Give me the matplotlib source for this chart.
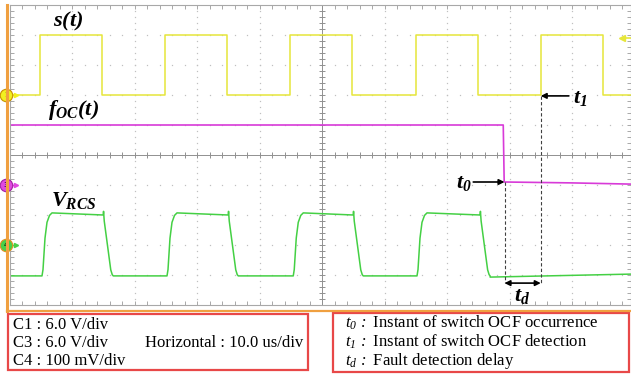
import numpy as np
import matplotlib
matplotlib.use('Agg')
import matplotlib.pyplot as plt
from matplotlib.patches import Rectangle
from matplotlib.lines import Line2D

plt.rcParams['mathtext.fontset'] = 'custom'
plt.rcParams['mathtext.it'] = 'Liberation Serif:italic:bold'
plt.rcParams['mathtext.rm'] = 'Liberation Serif:italic:bold'
plt.rcParams['mathtext.sf'] = 'Liberation Serif:italic'

W, H = 631, 376

# s(t): gate signal edges [us] and levels [div]
s_rise = [4.8, 24.8, 44.9, 65.0, 85.0]
s_fall = [14.8, 34.8, 54.8, 74.9, 95.0]
s_low, s_high = 2.0, 4.0

# f_OC(t): fault flag, drops at t0
foc_t = [0.0, 79.0, 79.15, 90.0, 99.4]
foc_v = [1.0, 1.0, -0.90, -0.93, -0.97]

# V_RCS edges [us] and levels [div]
v_rise = [5.2, 25.2, 45.4, 65.2]
v_fall = [15.0, 35.0, 55.0, 75.3]
v_low, v_high0, v_high1 = -4.03, -1.93, -2.0
v_tail_t = [76.9, 99.4]
v_tail_v = [-4.07, -3.97]

t0, t1 = 79.2, 85.0
t_end = 99.44

# edge shapes of the current sensor signal
rise_dt = [0, 0.1, 0.3, 0.5, 0.75, 1.0]
rise_dv = [0, 0.1, 0.6, 0.85, 0.96, 1.0]
fall_dt = [0, 0.03, 0.1, 0.75, 0.9, 1.0]
fall_dv = [1.0, 1.06, 0.9, 0.1, 0.02, 0.0]
edge_len = 1.6

def square(rise, fall, lo, hi):
    t, v = [0.0], [lo]
    for r, f in zip(rise, fall):
        t += [r, r, f, f]
        v += [lo, hi, hi, lo]
    t.append(t_end); v.append(lo)
    return t, v

def rcs_wave():
    t, v = [0.0], [v_low]
    for r, f in zip(v_rise, v_fall):
        amp = v_high0 - v_low
        for a, b in zip(rise_dt, rise_dv):
            t.append(r + a*edge_len); v.append(v_low + b*amp)
        t.append(f); v.append(v_high1)
        amp = v_high1 - v_low
        for a, b in zip(fall_dt[1:], fall_dv[1:]):
            t.append(f + a*edge_len); v.append(v_low + b*amp)
    t += v_tail_t; v += v_tail_v
    return t, v

fig = plt.figure(figsize=(W/100, H/100), dpi=100)
ax = fig.add_axes([9.5/W, 1-305/H, 621.5/W, 300/H])
ax.set_xlim(0, t_end)
ax.set_ylim(-5, 5)

grey = '#a8a8a8'
for sp in ax.spines.values():
    sp.set_color(grey); sp.set_linewidth(0.8)
ax.set_xticks(np.arange(0, 100, 10))
ax.set_xticks(np.arange(0, 100, 2), minor=True)
ax.set_yticks(np.arange(-5, 6, 1))
ax.set_yticks(np.arange(-5, 5.01, 0.2), minor=True)
ax.tick_params(which='both', direction='in', length=3, width=0.7, color=grey,
               top=True, right=True, labelbottom=False, labelleft=False)

# dotted graticule
yd = np.arange(-5, 5.01, 0.2)
for x in range(10, 100, 10):
    if x != 50:
        ax.plot(np.full_like(yd, x), yd, ls='none', marker='s', ms=0.9, color='#c0c0c0', mew=0)
xd = np.arange(0, t_end, 2)
for y in range(-4, 5):
    if y != 0:
        ax.plot(xd, np.full_like(xd, y), ls='none', marker='s', ms=0.9, color='#c0c0c0', mew=0)
ax.axvline(50, color='#909090', lw=0.7)
ax.axhline(0, color='#909090', lw=0.7)
ax.plot(xd, np.zeros_like(xd), ls='none', marker='|', ms=4, color='#909090', mew=0.7)
ax.plot(np.full_like(yd, 50), yd, ls='none', marker='_', ms=4, color='#909090', mew=0.7)

# traces
ts, vs = square(s_rise, s_fall, s_low, s_high)
ax.plot(ts, vs, color='#e6e63a', lw=1.1)
ax.plot(foc_t, foc_v, color='#d83ad8', lw=1.2)
tv, vv = rcs_wave()
ax.plot(tv, vv, color='#44d044', lw=1.1)

# trigger level marker
ax.plot([98.0, t_end], [3.9, 3.9], color='#e6e63a', lw=1.2, clip_on=False)
ax.plot(98.0, 3.9, marker='<', ms=5, color='#e6e63a', clip_on=False)

# channel markers on the left edge
for lvl, num, fc, ec in [(2.0, '1', '#f2f020', '#c89000'),
                         (-1.0, '3', '#e048e0', '#a020a0'),
                         (-3.0, '4', '#48d048', '#e09020')]:
    ax.plot([-0.3, 1.0], [lvl, lvl], color=fc, lw=1.0, clip_on=False)
    ax.plot(1.0, lvl, marker='>', ms=3, color=fc, clip_on=False)
    ax.plot(-0.55, lvl, marker='o', ms=9, mfc=fc, mec=ec, mew=0.8, clip_on=False, zorder=5)
    ax.text(-0.55, lvl, num, fontsize=5, ha='center', va='center', zorder=6)

# signal labels
lab = 16
ax.text(7.0, 4.45, r'$s(t)$', fontsize=lab, ha='left', va='center')
ax.text(6.1, 1.5, r'$f_{OC}(t)$', fontsize=lab, ha='left', va='center')
ax.text(6.7, -1.5, r'$V_{RCS}$', fontsize=lab, ha='left', va='center')

# t0 / t1 / td annotations
dash = dict(color='#404040', lw=0.8, ls=(0, (3, 2)))
ax.plot([t0, t0], [-0.9, -4.27], **dash)
ax.plot([t1, t1], [1.97, -4.27], **dash)
ax.annotate('', xy=(t1, 1.97), xytext=(89.5, 1.97),
            arrowprops=dict(arrowstyle='-|>', color='black', lw=1.2, mutation_scale=8, shrinkA=0, shrinkB=0))
ax.text(90.2, 1.9, r'$t_1$', fontsize=lab, ha='left', va='center')
ax.annotate('', xy=(t0, -0.9), xytext=(74.2, -0.9),
            arrowprops=dict(arrowstyle='-|>', color='black', lw=1.2, mutation_scale=8, shrinkA=0, shrinkB=0))
ax.text(71.5, -0.93, r'$t_0$', fontsize=lab, ha='left', va='center')
ax.annotate('', xy=(t0, -4.27), xytext=(t1, -4.27),
            arrowprops=dict(arrowstyle='<|-|>', color='black', lw=1.2, mutation_scale=8, shrinkA=0, shrinkB=0))
ax.text(80.8, -4.7, r'$t_d$', fontsize=lab, ha='left', va='center')

# orange frame on left and bottom
fig.add_artist(Line2D([7/W, 7/W], [1-5/H, 1-311/H], color='#f0a040', lw=2.2))
fig.add_artist(Line2D([7/W, 1], [1-311/H, 1-311/H], color='#f0a040', lw=1.6))

# settings boxes
red = '#e84848'
fig.add_artist(Rectangle((8/W, 1-370/H), 300/W, 56/H, fill=False, ec=red, lw=1.6))
fig.add_artist(Rectangle((333/W, 1-372/H), 296/W, 59/H, fill=False, ec=red, lw=1.6))

serif = 'Liberation Serif'
fs = 12
for txt, yy in [('C1 : 6.0 V/div', 325), ('C3 : 6.0 V/div', 343), ('C4 : 100 mV/div', 361)]:
    fig.text(13/W, 1-yy/H, txt, family=serif, fontsize=fs, va='center')
fig.text(145/W, 1-343/H, 'Horizontal : 10.0 us/div', family=serif, fontsize=fs, va='center')
for sym, txt, yy in [('0', 'Instant of switch OCF occurrence', 323),
                     ('1', 'Instant of switch OCF detection', 342),
                     ('d', 'Fault detection delay', 361)]:
    fig.text(345/W, 1-yy/H, r'$\mathsf{t}_{\mathsf{%s}}$' % sym + r'$\mathsf{\,:}$ ' + txt,
             family=serif, fontsize=fs, va='center')

fig.savefig('out.png', dpi=100)
